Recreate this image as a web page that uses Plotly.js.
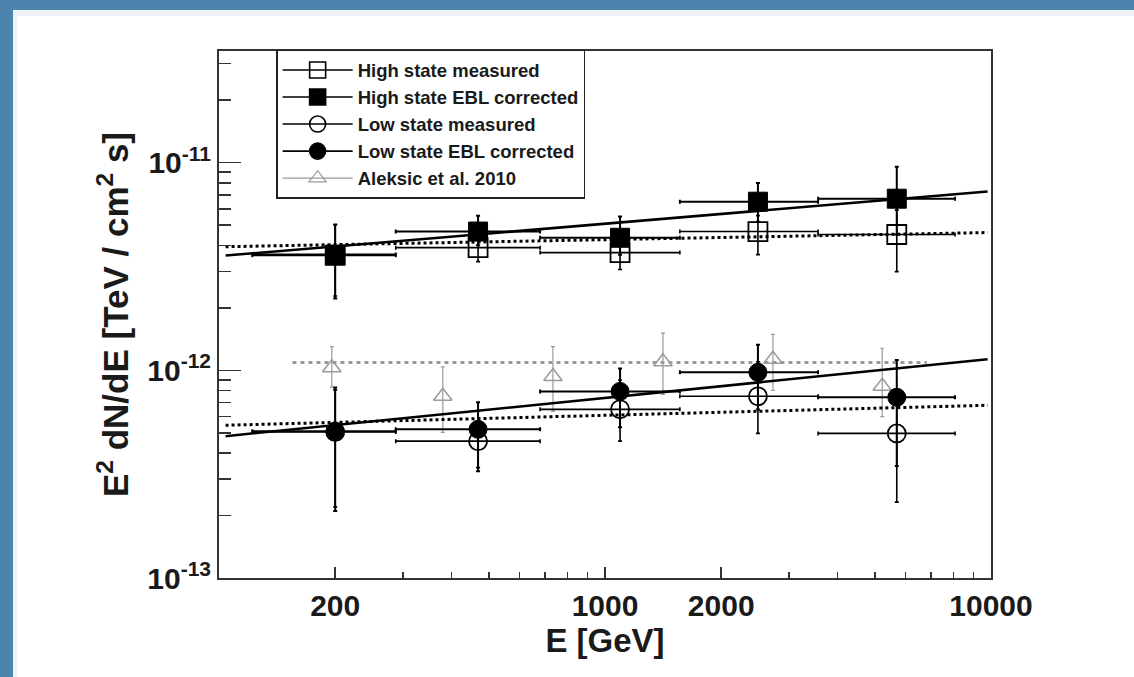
<!DOCTYPE html>
<html>
<head>
<meta charset="utf-8">
<script src="https://cdn.plot.ly/plotly-3.0.1.min.js"></script>
<style>
  html, body { margin:0; padding:0; width:1134px; height:677px; overflow:hidden; background:#4c84ad; }
  #strip { position:absolute; left:13px; top:10px; right:0; bottom:0; background:#edf3f6; }
  #inner { position:absolute; left:17px; top:16px; right:0; bottom:0; background:#ffffff; }
  #plot { position:absolute; left:0; top:0; width:1134px; height:677px; }
</style>
</head>
<body>
<div id="strip"></div>
<div id="inner"></div>
<div id="plot"></div>
<script>
// ---------- data ----------
const binCenter = [200, 469, 1094, 2490, 5700];       // GeV
const binLow    = [122, 287, 679, 1563, 3565];
const binHigh   = [287, 679, 1563, 3565, 8070];

const highMeasured      = [3.58e-12, 3.90e-12, 3.69e-12, 4.66e-12, 4.51e-12];
const highMeasuredUp    = [1.45e-12, 0.70e-12, 0.70e-12, 0.90e-12, 1.40e-12];
const highMeasuredDown  = [1.30e-12, 0.56e-12, 0.63e-12, 1.05e-12, 1.52e-12];

const highEBL      = [3.61e-12, 4.66e-12, 4.35e-12, 6.49e-12, 6.71e-12];
const highEBLUp    = [1.43e-12, 0.90e-12, 1.15e-12, 1.50e-12, 2.86e-12];
const highEBLDown  = [1.39e-12, 0.66e-12, 0.75e-12, 1.30e-12, 2.20e-12];

const lowMeasured      = [5.05e-13, 4.56e-13, 6.49e-13, 7.50e-13, 4.97e-13];
const lowMeasuredUp    = [3.00e-13, 1.80e-13, 2.50e-13, 3.50e-13, 2.50e-13];
const lowMeasuredDown  = [2.85e-13, 1.16e-13, 1.93e-13, 2.53e-13, 2.65e-13];

const lowEBL      = [5.09e-13, 5.20e-13, 7.92e-13, 9.78e-13, 7.42e-13];
const lowEBLUp    = [3.19e-13, 1.82e-13, 2.28e-13, 3.50e-13, 3.80e-13];
const lowEBLDown  = [2.99e-13, 1.93e-13, 2.60e-13, 3.30e-13, 3.96e-13];

const aleksicE    = [196, 380, 733, 1413, 2723, 5226];
const aleksicF    = [1.03e-12, 7.50e-13, 9.35e-13, 1.10e-12, 1.13e-12, 8.38e-13];
const aleksicUp   = [0.27e-12, 0.29e-12, 0.365e-12, 0.41e-12, 0.36e-12, 0.44e-12];
const aleksicDown = [0.20e-12, 0.247e-12, 0.30e-12, 0.333e-12, 0.33e-12, 0.24e-12];

// fitted power laws (end points)
const fitE          = [104, 9800];
const fitHighEBL    = [3.57e-12, 7.26e-12];
const fitHighMeas   = [3.94e-12, 4.61e-12];
const fitLowEBL     = [4.82e-13, 1.13e-12];
const fitLowMeas    = [5.44e-13, 6.79e-13];
const aleksicFitE   = [155, 6820];
const aleksicFitF   = [1.09e-12, 1.09e-12];

const legendNames = ["High state measured", "High state EBL corrected",
                     "Low state measured", "Low state EBL corrected", "Aleksic et al. 2010"];

const xTickVals = [200, 1000, 2000, 10000];
const xTickText = ["200", "1000", "2000", "10000"];
const xMinor = [300,400,500,600,700,800,900,3000,4000,5000,6000,7000,8000,9000];
const yTickVals = [1e-13, 1e-12, 1e-11];
const yTickText = ["10<sup>-13</sup>", "10<sup>-12</sup>", "10<sup>-11</sup>"];
const yMinor = [2e-13,3e-13,4e-13,5e-13,6e-13,7e-13,8e-13,9e-13,
                2e-12,3e-12,4e-12,5e-12,6e-12,7e-12,8e-12,9e-12,2e-11,3e-11];

// ---------- traces ----------
const xPlus  = binHigh.map((h,i)=>h-binCenter[i]);
const xMinus = binLow.map((l,i)=>binCenter[i]-l);

function pts(y, up, down, symbol, size, color, lw, ethick) {
  return {
    x: binCenter, y: y, type:'scatter', mode:'markers', showlegend:false,
    marker:{symbol:symbol, size:size, color:color, line:{color:color, width:lw}},
    error_y:{type:'data', symmetric:false, array:up, arrayminus:down, color:color, thickness:ethick, width:2},
    error_x:{type:'data', symmetric:false, array:xPlus, arrayminus:xMinus, color:color, thickness:ethick, width:2},
    hoverinfo:'x+y'
  };
}
function fit(x, y, color, width, dash) {
  return {x:x, y:y, type:'scatter', mode:'lines', showlegend:false,
          line:{color:color, width:width, dash:dash}, hoverinfo:'skip'};
}
function leg(name, symbol, size, color, lw) {
  return {x:[null], y:[null], type:'scatter', mode:'lines+markers', name:name, legendgroup:name,
          line:{color:color, width:lw}, marker:{symbol:symbol, size:size, color:color, line:{color:color, width:lw}}};
}

const grey = '#9a9a9a';
const data = [
  fit(aleksicFitE, aleksicFitF, grey, 3, '4px,4px'),
  {x:aleksicE, y:aleksicF, type:'scatter', mode:'markers', showlegend:false,
   marker:{symbol:'triangle-up-open', size:16, color:grey, line:{color:grey, width:1.5}},
   error_y:{type:'data', symmetric:false, array:aleksicUp, arrayminus:aleksicDown, color:grey, thickness:1.2, width:2}},
  fit(fitE, fitHighMeas, '#000', 3, 'dot'),
  fit(fitE, fitLowMeas, '#000', 3, 'dot'),
  fit(fitE, fitHighEBL, '#000', 2.5, 'solid'),
  fit(fitE, fitLowEBL, '#000', 2.5, 'solid'),
  pts(highMeasured, highMeasuredUp, highMeasuredDown, 'square-open', 19, '#000', 1.8, 1.6),
  pts(lowMeasured, lowMeasuredUp, lowMeasuredDown, 'circle-open', 18, '#000', 1.8, 1.6),
  pts(highEBL, highEBLUp, highEBLDown, 'square', 19, '#000', 1, 2),
  pts(lowEBL, lowEBLUp, lowEBLDown, 'circle', 18, '#000', 1, 2),
  leg(legendNames[0], 'square-open', 17, '#000', 1.6),
  leg(legendNames[1], 'square', 17, '#000', 1.6),
  leg(legendNames[2], 'circle-open', 17, '#000', 1.6),
  leg(legendNames[3], 'circle', 17, '#000', 1.6),
  leg(legendNames[4], 'triangle-up-open', 15, grey, 1.2)
];

const fontFam = 'Liberation Sans, Arial, Helvetica, sans-serif';
const txt = '#1a1a1a';
const layout = {
  width:1134, height:677,
  paper_bgcolor:'rgba(0,0,0,0)', plot_bgcolor:'rgba(0,0,0,0)',
  margin:{l:219, r:143, t:51, b:99},
  font:{family:fontFam, color:txt},
  showlegend:true,
  legend:{x:0.074, y:1.002, xanchor:'left', yanchor:'top', bgcolor:'#ffffff',
          bordercolor:'#222', borderwidth:1.5, tracegroupgap:0, itemwidth:70,
          font:{family:fontFam, size:18.5, weight:'bold', color:txt}},
  xaxis:{type:'log', range:[2.0, 4.0], showgrid:false, zeroline:false,
         showline:true, linecolor:'#333', linewidth:2, mirror:true,
         ticks:'inside', ticklen:11, tickwidth:1.5, tickcolor:'#333',
         tickmode:'array', tickvals:xTickVals, ticktext:xTickText,
         tickfont:{family:fontFam, size:30, weight:'bold', color:txt},
         minor:{tickmode:'array', tickvals:xMinor, ticks:'inside', ticklen:6, tickwidth:1.5, tickcolor:'#333', showgrid:false},
         title:{text:'E [GeV]', font:{family:fontFam, size:33, weight:'bold', color:txt}, standoff:3}},
  yaxis:{type:'log', range:[-13, -10.462], showgrid:false, zeroline:false,
         showline:true, linecolor:'#333', linewidth:2, mirror:true,
         ticks:'inside', ticklen:22, tickwidth:1.5, tickcolor:'#333',
         tickmode:'array', tickvals:yTickVals, ticktext:yTickText,
         tickfont:{family:fontFam, size:30, weight:'bold', color:txt},
         minor:{tickmode:'array', tickvals:yMinor, ticks:'inside', ticklen:12, tickwidth:1.5, tickcolor:'#333', showgrid:false},
         title:{text:'E<sup>2</sup> dN/dE [TeV / cm<sup>2</sup> s]', font:{family:fontFam, size:35, weight:'bold', color:txt}, standoff:8}}
};

Plotly.newPlot('plot', data, layout, {displayModeBar:false, staticPlot:true});
</script>
</body>
</html>
